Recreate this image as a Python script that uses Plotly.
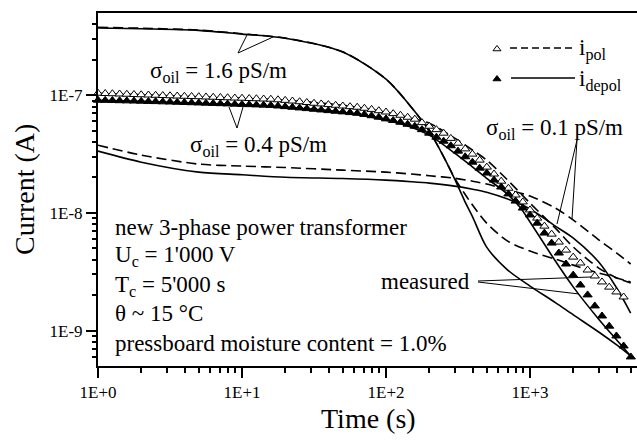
import plotly.graph_objects as go
import math

# ---------------- data ----------------
# measured times (s)
t_meas = [1.0, 1.122, 1.259, 1.413, 1.585, 1.778, 1.995, 2.239, 2.512, 2.818,
          3.162, 3.548, 3.981, 4.467, 5.012, 5.623, 6.31, 7.079, 7.943, 8.913,
          10.0, 11.22, 12.59, 14.13, 15.85, 17.78, 19.95, 22.39, 25.12, 28.18,
          31.62, 35.48, 39.81, 44.67, 50.12, 56.23, 63.1, 70.79, 79.43, 89.13,
          100.0, 112.2, 125.9, 141.3, 158.5, 177.8, 199.5, 223.9, 251.2, 281.8,
          316.2, 354.8, 398.1, 446.7, 501.2, 562.3, 631.0, 707.9, 794.3, 891.3,
          1000, 1122, 1259, 1413, 1585, 1778, 1995, 2239, 2512, 2818,
          3162, 3548, 3981, 4467, 5012]

# measured polarisation current, units of 1E-8 A
pol_meas_1e8 = [10.4, 10.35, 10.3, 10.25, 10.2, 10.15, 10.1, 10.05, 10.0, 9.95,
                9.9, 9.85, 9.8, 9.76, 9.72, 9.67, 9.62, 9.57, 9.52, 9.47,
                9.43, 9.38, 9.34, 9.29, 9.25, 9.15, 9.05, 8.93, 8.81, 8.68,
                8.55, 8.44, 8.33, 8.22, 8.1, 8.0, 7.91, 7.75, 7.58, 7.39,
                7.2, 6.98, 6.76, 6.5, 6.26, 5.85, 5.45, 5.1, 4.76, 4.3,
                3.91, 3.5, 3.16, 2.81, 2.45, 2.14, 1.86, 1.62, 1.42, 1.24,
                1.06, 0.903, 0.772, 0.66, 0.565, 0.483, 0.421, 0.375, 0.327, 0.291,
                0.259, 0.234, 0.213, 0.193]

# measured depolarisation current, units of 1E-8 A
depol_meas_1e8 = [9.07, 9.05, 9.02, 8.99, 8.96, 8.93, 8.9, 8.86, 8.83, 8.79,
                  8.76, 8.72, 8.68, 8.64, 8.6, 8.56, 8.52, 8.48, 8.44, 8.4,
                  8.36, 8.32, 8.28, 8.24, 8.2, 8.1, 8.0, 7.9, 7.8, 7.7,
                  7.6, 7.5, 7.4, 7.31, 7.22, 7.12, 7.03, 6.87, 6.7, 6.51,
                  6.3, 6.1, 5.9, 5.67, 5.45, 5.1, 4.76, 4.4, 4.07, 3.72,
                  3.35, 3.0, 2.7, 2.4, 2.18, 1.90, 1.66, 1.45, 1.26, 1.10,
                  0.96, 0.818, 0.674, 0.554, 0.456, 0.368, 0.296, 0.244, 0.201, 0.162,
                  0.133, 0.109, 0.090, 0.074, 0.0597]

# model curves
t_16 = [1, 2, 5, 10, 20, 50, 100, 150, 200, 250, 300, 350, 400, 500, 700, 1000,
        1500, 2000, 3000, 4000, 5000]
pol_16 = [3.78e-7, 3.71e-7, 3.58e-7, 3.33e-7, 3.06e-7, 2.34e-7, 1.37e-7, 7.91e-8,
          4.95e-8, 3.04e-8, 1.97e-8, 1.47e-8, 1.16e-8, 8.19e-9, 5.76e-9, 4.74e-9,
          4.05e-9, 3.60e-9, 3.08e-9, 2.80e-9, 2.59e-9]
depol_16 = [3.73e-7, 3.67e-7, 3.56e-7, 3.31e-7, 3.05e-7, 2.33e-7, 1.37e-7, 7.91e-8,
            4.95e-8, 3.04e-8, 1.94e-8, 1.28e-8, 9.21e-9, 5.12e-9, 3.27e-9, 2.39e-9,
            1.73e-9, 1.36e-9, 9.73e-10, 7.55e-10, 6.09e-10]

t_04_pol = [1, 2, 5, 10, 20, 50, 100, 150, 200, 300, 400, 500, 700, 1000, 1500,
            2000, 3000, 4000, 5000]
pol_04 = [1.04e-7, 1.01e-7, 9.71e-8, 9.43e-8, 9.07e-8, 8.22e-8, 7.17e-8, 6.38e-8,
          5.79e-8, 4.32e-8, 3.41e-8, 2.81e-8, 1.90e-8, 1.21e-8, 7.42e-9, 5.12e-9,
          3.40e-9, 2.80e-9, 2.54e-9]
t_04_depol = [1, 2, 5, 10, 20, 50, 100, 150, 200, 300, 400, 500, 700, 850, 1000,
              1500, 2000, 3000, 4000, 5000]
depol_04 = [9.07e-8, 8.89e-8, 8.55e-8, 8.31e-8, 7.91e-8, 7.17e-8, 6.14e-8, 5.35e-8,
            4.58e-8, 3.22e-8, 2.45e-8, 1.97e-8, 1.44e-8, 1.12e-8, 8.37e-9, 3.90e-9,
            2.34e-9, 1.25e-9, 8.32e-10, 6.09e-10]

t_01 = [1, 2, 5, 10, 20, 50, 100, 150, 200, 300, 400, 500, 700, 1000, 1500, 2000,
        3000, 4000, 5000]
pol_01 = [3.76e-8, 3.10e-8, 2.60e-8, 2.50e-8, 2.43e-8, 2.31e-8, 2.22e-8, 2.14e-8,
          2.07e-8, 1.97e-8, 1.86e-8, 1.76e-8, 1.57e-8, 1.39e-8, 1.10e-8, 8.70e-9,
          5.91e-9, 4.56e-9, 3.68e-9]
depol_01 = [3.35e-8, 2.70e-8, 2.22e-8, 2.11e-8, 2.01e-8, 1.96e-8, 1.90e-8, 1.84e-8,
            1.79e-8, 1.69e-8, 1.59e-8, 1.50e-8, 1.31e-8, 1.08e-8, 7.72e-9, 6.11e-9,
            3.82e-9, 2.30e-9, 1.41e-9]

x_tickvals = [1, 10, 100, 1000]
x_ticktext = ["1E+0", "1E+1", "1E+2", "1E+3"]
y_tickvals = [1e-9, 1e-8, 1e-7]
y_ticktext = ["1E-9", "1E-8", "1E-7"]

# ---------------- layout constants ----------------
W, H = 637, 441
ML, MR, MT, MB = 98, 0, 13, 75
PW, PH = W - ML - MR, H - MT - MB
FONT = "Liberation Serif"
X_RANGE = [0, 3.743]
Y_RANGE = [math.log10(5e-10), math.log10(5e-7)]


def px(x):
    return (x - ML) / PW


def py(y):
    return (H - MB - y) / PH


fig = go.Figure()

DASH = "10px,5px"
LW = 1.6


def line(t, v, dash=None):
    fig.add_trace(go.Scatter(x=t, y=v, mode="lines",
                             line=dict(color="black", width=LW, dash=dash or "solid",
                                       shape="spline", smoothing=0.8),
                             showlegend=False, hoverinfo="skip"))


line(t_16, pol_16, DASH)
line(t_16, depol_16)
line(t_04_pol, pol_04, DASH)
line(t_04_depol, depol_04)
line(t_01, pol_01, DASH)
line(t_01, depol_01)

fig.add_trace(go.Scatter(x=t_meas[:len(pol_meas_1e8)], y=[v * 1e-8 for v in pol_meas_1e8],
                         mode="markers",
                         marker=dict(symbol="triangle-up", size=8, color="white",
                                     line=dict(color="black", width=1)),
                         showlegend=False, hoverinfo="skip", cliponaxis=False))
fig.add_trace(go.Scatter(x=t_meas[:len(depol_meas_1e8)], y=[v * 1e-8 for v in depol_meas_1e8],
                         mode="markers",
                         marker=dict(symbol="triangle-up", size=8, color="black",
                                     line=dict(color="black", width=1)),
                         showlegend=False, hoverinfo="skip", cliponaxis=False))

# legend symbols on an overlay axis in paper-like space
fig.add_trace(go.Scatter(x=[px(497)], y=[py(49)], xaxis="x2", yaxis="y2", mode="markers",
                         marker=dict(symbol="triangle-up", size=7, color="white",
                                     line=dict(color="black", width=1)),
                         showlegend=False, hoverinfo="skip"))
fig.add_trace(go.Scatter(x=[px(497)], y=[py(79)], xaxis="x2", yaxis="y2", mode="markers",
                         marker=dict(symbol="triangle-up", size=7, color="black",
                                     line=dict(color="black", width=1)),
                         showlegend=False, hoverinfo="skip"))

shapes = []


def seg(x0, y0, x1, y1, w=1.0, dash="solid"):
    shapes.append(dict(type="line", xref="paper", yref="paper",
                       x0=px(x0), y0=py(y0), x1=px(x1), y1=py(y1),
                       line=dict(color="black", width=w, dash=dash)))


# legend lines
seg(510, 48, 574, 48, 1.5, "7px,4px")
seg(511, 78, 575, 78, 1.5)
# leaders
seg(238, 53, 247, 35)
seg(238, 53, 273, 37)
seg(237, 128, 229, 107)
seg(237, 128, 243, 107)
seg(577, 140, 557, 224)
seg(577, 140, 572, 219)
seg(478, 281, 591, 277)
seg(478, 282, 579, 294)

ann = []


def text(x, y, s, size=23, xanchor="left", yanchor="middle", angle=0):
    ann.append(dict(xref="paper", yref="paper", x=px(x), y=py(y), text=s,
                    showarrow=False, xanchor=xanchor, yanchor=yanchor, textangle=angle,
                    font=dict(family=FONT, size=size, color="black")))


text(148, 72, "σ<sub>oil</sub> = 1.6 pS/m")
text(188, 146, "σ<sub>oil</sub> = 0.4 pS/m")
text(484, 129, "σ<sub>oil</sub> = 0.1 pS/m")
text(472, 281, "measured", xanchor="right")
text(577, 50, "i<sub>pol</sub>")
text(577, 80, "i<sub>depol</sub>")
text(113, 227, "new 3-phase power transformer")
text(113, 256, "U<sub>c</sub> = 1'000 V")
text(113, 286, "T<sub>c</sub> = 5'000 s")
text(113, 313, "θ ~ 15 °C")
text(113, 343, "pressboard moisture content = 1.0%")
text(368, 418, "Time (s)", size=28, xanchor="center")
text(24, 190, "Current (A)", size=28, xanchor="center", angle=-90)

x_minor = [m * 10 ** d for d in range(0, 4) for m in range(2, 10) if m * 10 ** d < 10 ** X_RANGE[1]]
y_minor = [m * 10.0 ** d for d in (-10, -9, -8, -7) for m in range(2, 10)
           if 5e-10 < m * 10.0 ** d < 5e-7]

fig.update_layout(
    width=W, height=H,
    margin=dict(l=ML, r=MR, t=MT, b=MB),
    paper_bgcolor="white", plot_bgcolor="white",
    font=dict(family=FONT, color="black"),
    shapes=shapes, annotations=ann,
    xaxis=dict(type="log", range=X_RANGE, tickmode="array", tickvals=x_tickvals,
               ticktext=x_ticktext, ticks="outside", ticklen=10, tickwidth=2,
               tickcolor="black", showline=True, linewidth=2, linecolor="black",
               mirror=True, showgrid=False, zeroline=False,
               tickfont=dict(family=FONT, size=17, color="black"),
               minor=dict(tickmode="array", tickvals=x_minor, ticks="outside",
                          ticklen=5, tickwidth=1.5, tickcolor="black", showgrid=False)),
    yaxis=dict(type="log", range=Y_RANGE, tickmode="array", tickvals=y_tickvals,
               ticktext=y_ticktext, ticks="outside", ticklen=10, tickwidth=2,
               tickcolor="black", showline=True, linewidth=2, linecolor="black",
               mirror=False, showgrid=False, zeroline=False,
               tickfont=dict(family=FONT, size=17, color="black"),
               minor=dict(tickmode="array", tickvals=y_minor, ticks="outside",
                          ticklen=4, tickwidth=1.5, tickcolor="black", showgrid=False)),
    xaxis2=dict(overlaying="x", range=[0, 1], visible=False),
    yaxis2=dict(overlaying="y", range=[0, 1], visible=False),
)

post = ("document.body.style.margin='0';document.body.style.padding='0';"
        "var d=document.getElementById('{plot_id}');"
        "d.style.position='absolute';d.style.left='0px';d.style.top='0px';")
fig.write_html("out.html", post_script=post, config={"displayModeBar": False})
